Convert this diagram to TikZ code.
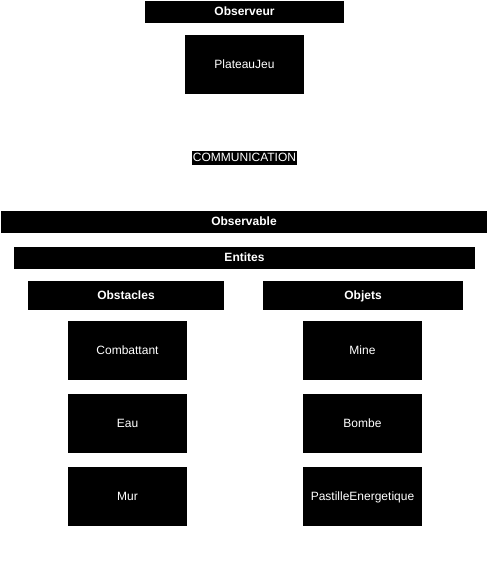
\documentclass[tikz,border=0pt]{standalone}
\usepackage{fontspec}
\setmainfont{Liberation Sans}
\begin{document}
\begin{tikzpicture}[x=1pt,y=-1pt,
  blk/.style={fill=black,draw=none,text=white,inner sep=0pt,text height=9.6pt,text depth=2.4pt,font=\fontsize{12}{14}\selectfont},
  hdr/.style={blk,font=\fontsize{12}{14}\selectfont\bfseries},
  lbl/.style={fill=black,text=white,inner xsep=0.5pt,inner ysep=0pt,minimum height=14pt,text height=9.6pt,text depth=2.4pt,font=\fontsize{12}{14}\selectfont}]
\useasboundingbox[fill=white] (0,0) rectangle (488,568);
% headers
\node[hdr,minimum width=199,minimum height=22] (obs) at (244.5,12) {Observeur};
\node[blk,minimum width=119,minimum height=59] (plat) at (244.5,64.5) {PlateauJeu};
\node[lbl] (comm) at (244.5,158) {COMMUNICATION};
\node[hdr,minimum width=486,minimum height=22] (obsb) at (244,222) {Observable};
\node[hdr,minimum width=461,minimum height=22] (ent) at (244.5,258) {Entites};
\node[hdr,minimum width=196,minimum height=29] (obst) at (126,295.5) {Obstacles};
\node[hdr,minimum width=200,minimum height=29] (objs) at (363,295.5) {Objets};
\node[blk,minimum width=119,minimum height=59] (comb) at (127.5,350.5) {Combattant};
\node[blk,minimum width=119,minimum height=59] (eau) at (127.5,423.5) {Eau};
\node[blk,minimum width=119,minimum height=59] (mur) at (127.5,496.5) {Mur};
\node[blk,minimum width=119,minimum height=59] (mine) at (362.5,350.5) {Mine};
\node[blk,minimum width=119,minimum height=59] (bomb) at (362.5,423.5) {Bombe};
\node[blk,minimum width=119,minimum height=59] (past) at (362.5,496.5) {PastilleEnergetique};
\end{tikzpicture}
\end{document}
